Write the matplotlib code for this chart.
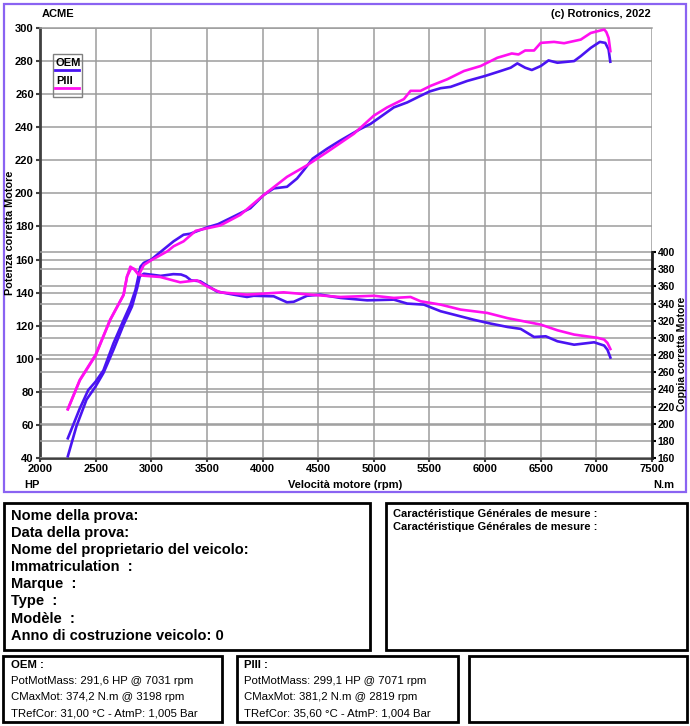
import matplotlib

matplotlib.use("Agg")
import matplotlib.pyplot as plt
from matplotlib.lines import Line2D
from matplotlib.patches import Rectangle

plt.rcParams["font.family"] = ["Liberation Sans", "DejaVu Sans"]

# --- data ---
oem_pow_rpm = [2250, 2358, 2433, 2500, 2570, 2660, 2751, 2812, 2858, 2903, 2933, 3000,
               3085, 3200, 3290, 3350, 3500, 3600, 3710, 3890, 4010, 4100, 4220, 4310,
               4370, 4450, 4580, 4700, 4880, 4970, 5180, 5300, 5420, 5500, 5600, 5690,
               5840, 6000, 6140, 6230, 6290, 6360, 6420, 6500, 6570, 6650, 6800, 6860,
               6950, 7031, 7080, 7110, 7125]
oem_pow_hp = [51.9, 70, 81, 86.2, 93, 109.3, 123.4, 132.5, 141.6, 155.7, 158, 160,
              164.7, 171, 175, 175.6, 179.4, 181.4, 185, 191, 199, 203, 204, 209,
              214, 221, 227, 232, 239, 242, 252, 255, 259, 261.6, 263.6, 264.4,
              268, 271, 274, 276, 278.6, 276, 274.6, 277, 280.4, 279, 280, 283,
              288, 291.6, 291, 287, 279.6]

piii_pow_rpm = [2250, 2358, 2500, 2630, 2750, 2782, 2812, 2848, 2888, 2933, 3000, 3145,
                3200, 3290, 3400, 3620, 3800, 4010, 4220, 4400, 4580, 4820, 5000, 5120,
                5270, 5330, 5420, 5510, 5660, 5810, 5960, 6110, 6240, 6300, 6360, 6440,
                6500, 6620, 6710, 6860, 6950, 7071, 7090, 7110, 7126]
piii_pow_hp = [69.4, 87, 102, 123.4, 138.5, 149.6, 155.7, 154, 150.6, 156.7, 159.6, 165,
               168, 171, 177.4, 180.6, 187, 199, 210, 217, 225, 236, 247, 252,
               257, 262, 262, 265, 269, 274, 277, 282, 284.6, 284, 286.4, 286.4,
               291, 291.6, 290.8, 293, 297, 299.1, 297.5, 294, 286]

oem_trq_rpm = [2250, 2327, 2418, 2500, 2570, 2660, 2751, 2827, 2873, 2897, 2933, 3000,
               3085, 3198, 3267, 3312, 3357, 3440, 3590, 3740, 3860, 3920, 4100, 4220,
               4280, 4400, 4520, 4700, 4940, 5180, 5300, 5450, 5600, 5750, 5900, 6050,
               6200, 6320, 6440, 6545, 6650, 6800, 6980, 7070, 7100, 7126]
oem_trq_nm = [162, 196.8, 228, 243.4, 259, 286, 315.3, 336.6, 358, 371.6, 374.7, 373.6,
              372.2, 374.2, 373.8, 371.6, 367, 365.9, 354, 350.3, 347.6, 349, 348.4, 341.4,
              342, 349, 350.3, 346.5, 343.7, 344.5, 339.9, 338.7, 331, 326, 321, 316.6,
              312.7, 310.4, 301, 301.8, 296, 292, 294.8, 291, 286, 277]

piii_trq_rpm = [2250, 2358, 2500, 2630, 2751, 2782, 2819, 2848, 2888, 2930, 3080, 3260,
                3410, 3500, 3620, 3860, 4190, 4460, 4700, 5000, 5180, 5330, 5420, 5600,
                5780, 6020, 6200, 6500, 6650, 6800, 7010, 7070, 7100, 7126]
piii_trq_nm = [217, 251, 280.4, 321, 350, 371.6, 381.2, 380.2, 373.6, 372.4, 370.9, 364.7,
               367, 360, 353, 350.3, 353, 350, 347.6, 349, 346.5, 347.6, 342.6, 338.7,
               332.9, 329, 323, 315.4, 308.8, 303.8, 300, 298, 294, 287]

x_ticks = list(range(2000, 7501, 500))
hp_ticks = list(range(40, 301, 20))
nm_ticks = list(range(160, 401, 20))

box_info = ["Nome della prova:", "Data della prova:", "Nome del proprietario del veicolo:",
            "Immatriculation  :", "Marque  :", "Type  :", "Modèle  :",
            "Anno di costruzione veicolo: 0"]
box_mesure = ["Caractéristique Générales de mesure :", "Caractéristique Générales de mesure :"]
oem_lines = ["PotMotMass: 291,6 HP @ 7031 rpm", "CMaxMot: 374,2 N.m @ 3198 rpm",
             "TRefCor: 31,00 °C - AtmP: 1,005 Bar"]
piii_lines = ["PotMotMass: 299,1 HP @ 7071 rpm", "CMaxMot: 381,2 N.m @ 2819 rpm",
              "TRefCor: 35,60 °C - AtmP: 1,004 Bar"]

BLUE = "#4a14f2"
MAGENTA = "#ff10f0"
FRAME = "#8a63f2"
GRID = "#9c9c9c"

W, H = 690, 726
fig = plt.figure(figsize=(W / 100, H / 100), dpi=100)


def fx(px):
    return px / W


def fy(py):
    return 1 - py / H


def box(x0, y0, x1, y1, color="black", lw=2.0):
    fig.patches.append(Rectangle((fx(x0), fy(y1)), (x1 - x0) / W, (y1 - y0) / H,
                                 transform=fig.transFigure, fill=False, ec=color, lw=lw))


ax = fig.add_axes([fx(40), fy(458), (652 - 40) / W, (458 - 28) / H])
ax.set_xlim(2000, 7500)
ax.set_ylim(40, 300)
ax.set_xticks(x_ticks)
ax.set_yticks(hp_ticks)
ax.grid(True, color=GRID, lw=1.1)
ax.set_axisbelow(True)
for s in ("left", "bottom"):
    ax.spines[s].set_color("#404040")
    ax.spines[s].set_linewidth(2)
ax.spines["top"].set_color(GRID)
ax.spines["top"].set_linewidth(1.1)
ax.spines["right"].set_visible(False)
ax.tick_params(length=3, width=1.5, color="#404040", labelsize=8, pad=1.5)
for lab in ax.get_xticklabels() + ax.get_yticklabels():
    lab.set_fontweight("bold")

# torque axis scaled so 160 N.m sits on 40 HP, 400 N.m around 164.5 HP
px_per_hp = 430 / 260
px_per_nm = 206 / 240
ax2 = ax.twinx()
ax2.set_ylim(160, 160 + 260 * px_per_hp / px_per_nm)
ax2.set_yticks(nm_ticks)
ax2.grid(True, axis="y", color=GRID, lw=1.1)
ax2.set_axisbelow(True)
for s in ("left", "bottom", "top"):
    ax2.spines[s].set_visible(False)
ax2.spines["right"].set_bounds(160, 400)
ax2.spines["right"].set_color("#202020")
ax2.spines["right"].set_linewidth(2)
ax2.tick_params(length=3, width=1.5, labelsize=7.5, pad=1)
for lab in ax2.get_yticklabels():
    lab.set_fontweight("bold")

# all curves on ax2 so they sit above both grids
ax2.plot(oem_trq_rpm, oem_trq_nm, color=BLUE, lw=1.9)
ax2.plot(piii_trq_rpm, piii_trq_nm, color=MAGENTA, lw=1.9)
ax2.plot(oem_pow_rpm, oem_pow_hp, color=BLUE, lw=1.9, transform=ax.transData)
ax2.plot(piii_pow_rpm, piii_pow_hp, color=MAGENTA, lw=1.9, transform=ax.transData)

# legend box
box(53, 54, 82, 97, color="#808080", lw=1)
fig.text(fx(56), fy(63), "OEM", fontsize=8, fontweight="bold", va="center")
fig.text(fx(56), fy(81), "PIII", fontsize=8, fontweight="bold", va="center")
fig.lines.append(Line2D([fx(55), fx(79)], [fy(69.5), fy(69.5)], color=BLUE, lw=2,
                        transform=fig.transFigure))
fig.lines.append(Line2D([fx(55), fx(79)], [fy(87.5), fy(87.5)], color=MAGENTA, lw=2,
                        transform=fig.transFigure))

# chart texts
fig.text(fx(42), fy(14), "ACME", fontsize=8, fontweight="bold", va="center")
fig.text(fx(651), fy(14), "(c) Rotronics, 2022", fontsize=8, fontweight="bold",
         va="center", ha="right")
fig.text(fx(10), fy(233), "Potenza corretta Motore", fontsize=7.8, fontweight="bold",
         rotation=90, ha="center", va="center")
fig.text(fx(682), fy(354), "Coppia corretta Motore", fontsize=7.5, fontweight="bold",
         rotation=90, ha="center", va="center")
fig.text(fx(24), fy(485), "HP", fontsize=8, fontweight="bold", va="center")
fig.text(fx(345), fy(485), "Velocità motore (rpm)", fontsize=8, fontweight="bold",
         va="center", ha="center")
fig.text(fx(653), fy(485), "N.m", fontsize=8, fontweight="bold", va="center")

# frames
box(4, 4, 686, 492, color=FRAME, lw=1.6)
box(4, 503, 370, 650)
box(386, 503, 687, 650)
box(3, 656, 222, 722)
box(237, 656, 458, 722)
box(469, 656, 687, 722)

for i, t in enumerate(box_info):
    fig.text(fx(11), fy(516 + i * 17.1), t, fontsize=10.5, fontweight="bold", va="center")
for i, t in enumerate(box_mesure):
    fig.text(fx(393), fy(514 + i * 13.5), t, fontsize=8, fontweight="bold", va="center")

fig.text(fx(11), fy(665), "OEM :", fontsize=8.2, fontweight="bold", va="center")
for i, t in enumerate(oem_lines):
    fig.text(fx(11), fy(681 + i * 16), t, fontsize=8.2, va="center")
fig.text(fx(244), fy(665), "PIII :", fontsize=8.2, fontweight="bold", va="center")
for i, t in enumerate(piii_lines):
    fig.text(fx(244), fy(681 + i * 16), t, fontsize=8.2, va="center")

fig.savefig("out.png", dpi=100)
